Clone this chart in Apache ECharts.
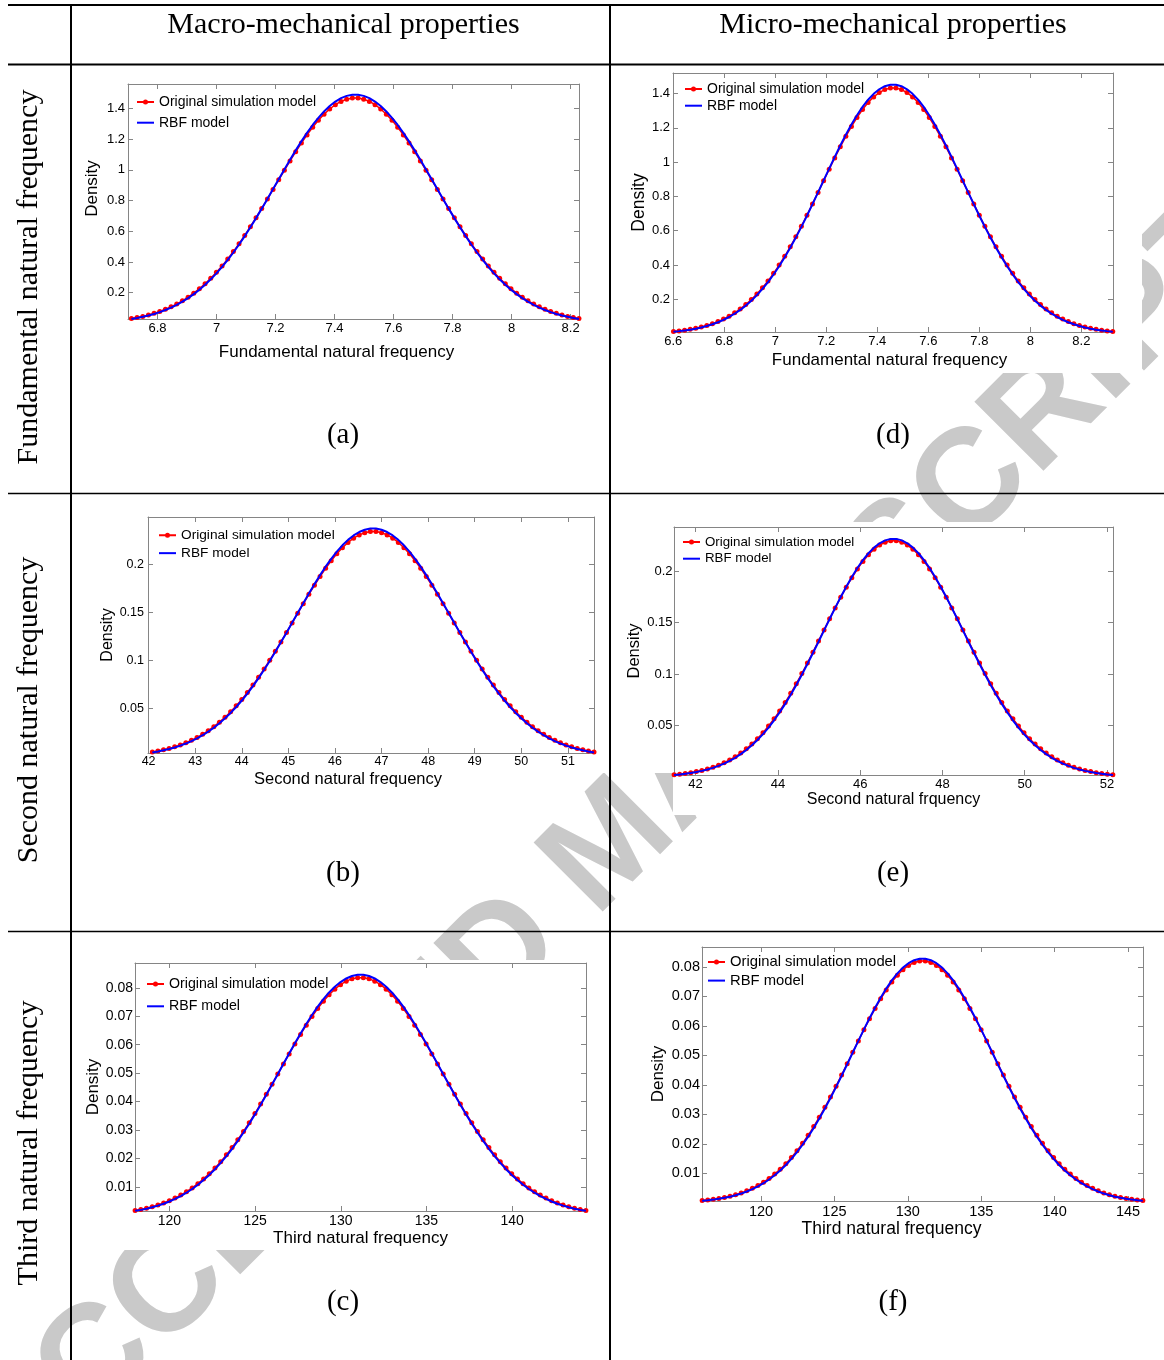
<!DOCTYPE html>
<html>
<head>
<meta charset="utf-8">
<title>Density comparison</title>
<script src="https://cdn.jsdelivr.net/npm/echarts@6.0.0/dist/echarts.min.js"></script>
<style>
html,body{margin:0;padding:0;background:#fff;}
#chart{width:1164px;height:1360px;}
</style>
</head>
<body>
<div id="chart"></div>
<script>
// ================= DATA =================
const seriesNames = ['Original simulation model', 'RBF model'];
const colHeaders = ['Macro-mechanical properties', 'Micro-mechanical properties'];
const rowHeaders = ['Fundamental natural frequency', 'Second natural frequency', 'Third natural frequency'];
const panelTags = ['(a)', '(b)', '(c)', '(d)', '(e)', '(f)'];
const xTitles = ['Fundamental natural frequency', 'Second natural frequency', 'Third natural frequency',
                 'Fundamental natural frequency', 'Second natural frquency', 'Third natural frequency'];
const yTitle = 'Density';
const watermarkText = 'ACCEPTED MANUSCRIPT';

// (a) macro, fundamental
const aX = [6.7116,6.7308,6.75,6.7692,6.7884,6.8076,6.8268,6.846,6.8652,6.8844,6.9036,6.9228,6.942,6.9612,6.9804,6.9996,7.0188,7.038,7.0572,7.0764,7.0956,7.1148,7.134,7.1532,7.1724,7.1916,7.2108,7.23,7.2492,7.2684,7.2876,7.3068,7.326,7.3452,7.3644,7.3836,7.4028,7.422,7.4412,7.4604,
            7.4796,7.4988,7.518,7.5372,7.5564,7.5756,7.5948,7.614,7.6332,7.6524,7.6716,7.6908,7.71,7.7292,7.7484,7.7676,7.7868,7.806,7.8252,7.8444,7.8636,7.8828,7.902,7.9212,7.9404,7.9596,7.9788,7.998,8.0172,8.0364,8.0556,8.0748,8.094,8.1132,8.1324,8.1516,8.1708,8.19,8.2092,8.2284];
const aRed = [0.0308,0.0374,0.0451,0.0542,0.0648,0.0770,0.0912,0.1074,0.1258,0.1467,0.1702,0.1965,0.2257,0.2580,0.2935,0.3322,0.3741,0.4193,0.4676,0.5188,0.5728,0.6294,0.6881,0.7485,0.8102,0.8727,0.9354,0.9976,1.0587,1.1180,1.1748,1.2283,1.2780,1.3231,1.3630,1.3971,1.4251,1.4464,1.4608,1.4681,
              1.4681,1.4608,1.4464,1.4251,1.3971,1.3630,1.3231,1.2780,1.2283,1.1748,1.1180,1.0587,0.9976,0.9354,0.8727,0.8102,0.7485,0.6881,0.6294,0.5728,0.5188,0.4676,0.4193,0.3741,0.3322,0.2935,0.2580,0.2257,0.1965,0.1702,0.1467,0.1258,0.1074,0.0912,0.0770,0.0648,0.0542,0.0451,0.0374,0.0308];
const aBlue = [0.0285,0.0347,0.0421,0.0508,0.0610,0.0728,0.0866,0.1023,0.1204,0.1409,0.1640,0.1900,0.2190,0.2512,0.2866,0.3253,0.3674,0.4129,0.4616,0.5135,0.5684,0.6259,0.6857,0.7475,0.8107,0.8748,0.9391,1.0032,1.0661,1.1273,1.1860,1.2413,1.2928,1.3395,1.3809,1.4164,1.4454,1.4676,1.4825,1.4901,
               1.4901,1.4825,1.4676,1.4454,1.4164,1.3809,1.3395,1.2928,1.2413,1.1860,1.1273,1.0661,1.0032,0.9391,0.8748,0.8107,0.7475,0.6857,0.6259,0.5684,0.5135,0.4616,0.4129,0.3674,0.3253,0.2866,0.2512,0.2190,0.1900,0.1640,0.1409,0.1204,0.1023,0.0866,0.0728,0.0610,0.0508,0.0421,0.0347,0.0285];
const aXTicks = [6.8, 7, 7.2, 7.4, 7.6, 7.8, 8, 8.2];
const aYTicks = [0.2, 0.4, 0.6, 0.8, 1, 1.2, 1.4];

// (b) macro, second
const bX = [42.08,42.2,42.32,42.44,42.56,42.68,42.8,42.92,43.04,43.16,43.28,43.4,43.52,43.64,43.76,43.88,44,44.12,44.24,44.36,44.48,44.6,44.72,44.84,44.96,45.08,45.2,45.32,45.44,45.56,45.68,45.8,45.92,46.04,46.16,46.28,46.4,46.52,46.64,46.76,
            46.88,47,47.12,47.24,47.36,47.48,47.6,47.72,47.84,47.96,48.08,48.2,48.32,48.44,48.56,48.68,48.8,48.92,49.04,49.16,49.28,49.4,49.52,49.64,49.76,49.88,50,50.12,50.24,50.36,50.48,50.6,50.72,50.84,50.96,51.08,51.2,51.32,51.44,51.56];
const bRed = [0.00492,0.00596,0.00720,0.00865,0.01034,0.01229,0.01455,0.01713,0.02007,0.02340,0.02715,0.03134,0.03600,0.04116,0.04681,0.05298,0.05967,0.06687,0.07457,0.08275,0.09137,0.10038,0.10974,0.11938,0.12923,0.13920,0.14919,0.15912,0.16886,0.17831,0.18737,0.19591,0.20383,0.21102,0.21739,0.22284,0.22730,0.23070,0.23300,0.23415,
              0.23415,0.23300,0.23070,0.22730,0.22284,0.21739,0.21102,0.20383,0.19591,0.18737,0.17831,0.16886,0.15912,0.14919,0.13920,0.12923,0.11938,0.10974,0.10038,0.09137,0.08275,0.07457,0.06687,0.05967,0.05298,0.04681,0.04116,0.03600,0.03134,0.02715,0.02340,0.02007,0.01713,0.01455,0.01229,0.01034,0.00865,0.00720,0.00596,0.00492];
const bBlue = [0.00454,0.00553,0.00671,0.00809,0.00971,0.01160,0.01378,0.01629,0.01917,0.02243,0.02612,0.03025,0.03487,0.03999,0.04563,0.05180,0.05850,0.06574,0.07350,0.08176,0.09050,0.09965,0.10918,0.11902,0.12908,0.13928,0.14953,0.15972,0.16975,0.17949,0.18883,0.19765,0.20583,0.21328,0.21987,0.22551,0.23014,0.23367,0.23605,0.23725,
               0.23725,0.23605,0.23367,0.23014,0.22551,0.21987,0.21328,0.20583,0.19765,0.18883,0.17949,0.16975,0.15972,0.14953,0.13928,0.12908,0.11902,0.10918,0.09965,0.09050,0.08176,0.07350,0.06574,0.05850,0.05180,0.04563,0.03999,0.03487,0.03025,0.02612,0.02243,0.01917,0.01629,0.01378,0.01160,0.00971,0.00809,0.00671,0.00553,0.00454];
const bXTicks = [42, 43, 44, 45, 46, 47, 48, 49, 50, 51];
const bYTicks = [0.05, 0.1, 0.15, 0.2];

// (c) macro, third
const cX = [117.9965,118.3295,118.6625,118.9955,119.3285,119.6615,119.9945,120.3275,120.6605,120.9935,121.3265,121.6595,121.9925,122.3255,122.6585,122.9915,123.3245,123.6575,123.9905,124.3235,124.6565,124.9895,125.3225,125.6555,125.9885,126.3215,126.6545,126.9875,127.3205,127.6535,127.9865,128.3195,128.6525,128.9855,129.3185,129.6515,129.9845,130.3175,130.6505,130.9835,
            131.3165,131.6495,131.9825,132.3155,132.6485,132.9815,133.3145,133.6475,133.9805,134.3135,134.6465,134.9795,135.3125,135.6455,135.9785,136.3115,136.6445,136.9775,137.3105,137.6435,137.9765,138.3095,138.6425,138.9755,139.3085,139.6415,139.9745,140.3075,140.6405,140.9735,141.3065,141.6395,141.9725,142.3055,142.6385,142.9715,143.3045,143.6375,143.9705,144.3035];
const cRed = [0.00175,0.00213,0.00257,0.00309,0.00369,0.00439,0.00519,0.00611,0.00716,0.00835,0.00969,0.01118,0.01285,0.01469,0.01670,0.01891,0.02129,0.02386,0.02661,0.02953,0.03260,0.03582,0.03916,0.04260,0.04611,0.04967,0.05323,0.05677,0.06025,0.06362,0.06686,0.06990,0.07273,0.07529,0.07757,0.07951,0.08110,0.08232,0.08314,0.08355,
              0.08355,0.08314,0.08232,0.08110,0.07951,0.07757,0.07529,0.07273,0.06990,0.06686,0.06362,0.06025,0.05677,0.05323,0.04967,0.04611,0.04260,0.03916,0.03582,0.03260,0.02953,0.02661,0.02386,0.02129,0.01891,0.01670,0.01469,0.01285,0.01118,0.00969,0.00835,0.00716,0.00611,0.00519,0.00439,0.00369,0.00309,0.00257,0.00213,0.00175];
const cBlue = [0.00162,0.00197,0.00239,0.00288,0.00346,0.00413,0.00491,0.00581,0.00683,0.00799,0.00931,0.01078,0.01243,0.01425,0.01626,0.01846,0.02085,0.02343,0.02619,0.02914,0.03225,0.03551,0.03891,0.04241,0.04600,0.04964,0.05329,0.05692,0.06049,0.06396,0.06729,0.07044,0.07335,0.07600,0.07835,0.08036,0.08201,0.08327,0.08412,0.08455,
               0.08455,0.08412,0.08327,0.08201,0.08036,0.07835,0.07600,0.07335,0.07044,0.06729,0.06396,0.06049,0.05692,0.05329,0.04964,0.04600,0.04241,0.03891,0.03551,0.03225,0.02914,0.02619,0.02343,0.02085,0.01846,0.01626,0.01425,0.01243,0.01078,0.00931,0.00799,0.00683,0.00581,0.00491,0.00413,0.00346,0.00288,0.00239,0.00197,0.00162];
const cXTicks = [120, 125, 130, 135, 140];
const cYTicks = [0.01, 0.02, 0.03, 0.04, 0.05, 0.06, 0.07, 0.08];

// (d) micro, fundamental
const dX = [6.6009,6.6227,6.6445,6.6663,6.6881,6.7099,6.7317,6.7535,6.7753,6.7971,6.8189,6.8407,6.8625,6.8843,6.9061,6.9279,6.9497,6.9715,6.9933,7.0151,7.0369,7.0587,7.0805,7.1023,7.1241,7.1459,7.1677,7.1895,7.2113,7.2331,7.2549,7.2767,7.2985,7.3203,7.3421,7.3639,7.3857,7.4075,7.4293,7.4511,
            7.4729,7.4947,7.5165,7.5383,7.5601,7.5819,7.6037,7.6255,7.6473,7.6691,7.6909,7.7127,7.7345,7.7563,7.7781,7.7999,7.8217,7.8435,7.8653,7.8871,7.9089,7.9307,7.9525,7.9743,7.9961,8.0179,8.0397,8.0615,8.0833,8.1051,8.1269,8.1487,8.1705,8.1923,8.2141,8.2359,8.2577,8.2795,8.3013,8.3231];
const dRed = [0.0125,0.0158,0.0199,0.0250,0.0311,0.0384,0.0473,0.0578,0.0702,0.0847,0.1017,0.1213,0.1438,0.1695,0.1985,0.2311,0.2674,0.3075,0.3515,0.3994,0.4511,0.5063,0.5648,0.6263,0.6903,0.7563,0.8234,0.8912,0.9586,1.0249,1.0892,1.1504,1.2078,1.2603,1.3071,1.3475,1.3806,1.4060,1.4232,1.4319,
              1.4319,1.4232,1.4060,1.3806,1.3475,1.3071,1.2603,1.2078,1.1504,1.0892,1.0249,0.9586,0.8912,0.8234,0.7563,0.6903,0.6263,0.5648,0.5063,0.4511,0.3994,0.3515,0.3075,0.2674,0.2311,0.1985,0.1695,0.1438,0.1213,0.1017,0.0847,0.0702,0.0578,0.0473,0.0384,0.0311,0.0250,0.0199,0.0158,0.0125];
const dBlue = [0.0113,0.0144,0.0182,0.0230,0.0287,0.0357,0.0442,0.0542,0.0662,0.0803,0.0968,0.1159,0.1380,0.1632,0.1919,0.2242,0.2604,0.3005,0.3446,0.3927,0.4448,0.5006,0.5600,0.6225,0.6877,0.7551,0.8239,0.8933,0.9626,1.0309,1.0971,1.1603,1.2196,1.2739,1.3224,1.3642,1.3986,1.4250,1.4429,1.4519,
               1.4519,1.4429,1.4250,1.3986,1.3642,1.3224,1.2739,1.2196,1.1603,1.0971,1.0309,0.9626,0.8933,0.8239,0.7551,0.6877,0.6225,0.5600,0.5006,0.4448,0.3927,0.3446,0.3005,0.2604,0.2242,0.1919,0.1632,0.1380,0.1159,0.0968,0.0803,0.0662,0.0542,0.0442,0.0357,0.0287,0.0230,0.0182,0.0144,0.0113];
const dXTicks = [6.6, 6.8, 7, 7.2, 7.4, 7.6, 7.8, 8, 8.2];
const dYTicks = [0.2, 0.4, 0.6, 0.8, 1, 1.2, 1.4];

// (e) micro, second
const eX = [41.4775,41.6125,41.7475,41.8825,42.0175,42.1525,42.2875,42.4225,42.5575,42.6925,42.8275,42.9625,43.0975,43.2325,43.3675,43.5025,43.6375,43.7725,43.9075,44.0425,44.1775,44.3125,44.4475,44.5825,44.7175,44.8525,44.9875,45.1225,45.2575,45.3925,45.5275,45.6625,45.7975,45.9325,46.0675,46.2025,46.3375,46.4725,46.6075,46.7425,
            46.8775,47.0125,47.1475,47.2825,47.4175,47.5525,47.6875,47.8225,47.9575,48.0925,48.2275,48.3625,48.4975,48.6325,48.7675,48.9025,49.0375,49.1725,49.3075,49.4425,49.5775,49.7125,49.8475,49.9825,50.1175,50.2525,50.3875,50.5225,50.6575,50.7925,50.9275,51.0625,51.1975,51.3325,51.4675,51.6025,51.7375,51.8725,52.0075,52.1425];
const eRed = [0.00200,0.00254,0.00320,0.00400,0.00499,0.00617,0.00758,0.00927,0.01126,0.01360,0.01632,0.01946,0.02307,0.02719,0.03185,0.03707,0.04290,0.04934,0.05640,0.06408,0.07236,0.08122,0.09062,0.10048,0.11075,0.12133,0.13210,0.14297,0.15379,0.16443,0.17474,0.18457,0.19376,0.20219,0.20970,0.21617,0.22150,0.22557,0.22833,0.22973,
              0.22973,0.22833,0.22557,0.22150,0.21617,0.20970,0.20219,0.19376,0.18457,0.17474,0.16443,0.15379,0.14297,0.13210,0.12133,0.11075,0.10048,0.09062,0.08122,0.07236,0.06408,0.05640,0.04934,0.04290,0.03707,0.03185,0.02719,0.02307,0.01946,0.01632,0.01360,0.01126,0.00927,0.00758,0.00617,0.00499,0.00400,0.00320,0.00254,0.00200];
const eBlue = [0.00180,0.00229,0.00291,0.00366,0.00459,0.00570,0.00704,0.00865,0.01056,0.01280,0.01544,0.01849,0.02201,0.02604,0.03062,0.03577,0.04154,0.04793,0.05497,0.06265,0.07096,0.07987,0.08934,0.09932,0.10972,0.12046,0.13143,0.14251,0.15357,0.16446,0.17502,0.18511,0.19456,0.20323,0.21097,0.21764,0.22313,0.22733,0.23018,0.23162,
               0.23162,0.23018,0.22733,0.22313,0.21764,0.21097,0.20323,0.19456,0.18511,0.17502,0.16446,0.15357,0.14251,0.13143,0.12046,0.10972,0.09932,0.08934,0.07987,0.07096,0.06265,0.05497,0.04793,0.04154,0.03577,0.03062,0.02604,0.02201,0.01849,0.01544,0.01280,0.01056,0.00865,0.00704,0.00570,0.00459,0.00366,0.00291,0.00229,0.00180];
const eXTicks = [42, 44, 46, 48, 50, 52];
const eYTicks = [0.05, 0.1, 0.15, 0.2];

// (f) micro, third
const fX = [115.99,116.37,116.75,117.13,117.51,117.89,118.27,118.65,119.03,119.41,119.79,120.17,120.55,120.93,121.31,121.69,122.07,122.45,122.83,123.21,123.59,123.97,124.35,124.73,125.11,125.49,125.87,126.25,126.63,127.01,127.39,127.77,128.15,128.53,128.91,129.29,129.67,130.05,130.43,130.81,
            131.19,131.57,131.95,132.33,132.71,133.09,133.47,133.85,134.23,134.61,134.99,135.37,135.75,136.13,136.51,136.89,137.27,137.65,138.03,138.41,138.79,139.17,139.55,139.93,140.31,140.69,141.07,141.45,141.83,142.21,142.59,142.97,143.35,143.73,144.11,144.49,144.87,145.25,145.63,146.01];
const fRed = [0.00072,0.00091,0.00114,0.00143,0.00178,0.00220,0.00271,0.00331,0.00402,0.00486,0.00583,0.00695,0.00824,0.00971,0.01137,0.01324,0.01532,0.01762,0.02014,0.02288,0.02584,0.02901,0.03236,0.03588,0.03955,0.04333,0.04718,0.05106,0.05492,0.05872,0.06240,0.06591,0.06920,0.07220,0.07489,0.07720,0.07910,0.08056,0.08154,0.08204,
              0.08204,0.08154,0.08056,0.07910,0.07720,0.07489,0.07220,0.06920,0.06591,0.06240,0.05872,0.05492,0.05106,0.04718,0.04333,0.03955,0.03588,0.03236,0.02901,0.02584,0.02288,0.02014,0.01762,0.01532,0.01324,0.01137,0.00971,0.00824,0.00695,0.00583,0.00486,0.00402,0.00331,0.00271,0.00220,0.00178,0.00143,0.00114,0.00091,0.00072];
const fBlue = [0.00064,0.00082,0.00104,0.00131,0.00164,0.00204,0.00252,0.00309,0.00378,0.00458,0.00552,0.00661,0.00787,0.00931,0.01095,0.01279,0.01486,0.01714,0.01966,0.02241,0.02538,0.02856,0.03195,0.03552,0.03924,0.04308,0.04700,0.05097,0.05492,0.05882,0.06259,0.06620,0.06958,0.07268,0.07545,0.07784,0.07980,0.08130,0.08232,0.08284,
               0.08284,0.08232,0.08130,0.07980,0.07784,0.07545,0.07268,0.06958,0.06620,0.06259,0.05882,0.05492,0.05097,0.04700,0.04308,0.03924,0.03552,0.03195,0.02856,0.02538,0.02241,0.01966,0.01714,0.01486,0.01279,0.01095,0.00931,0.00787,0.00661,0.00552,0.00458,0.00378,0.00309,0.00252,0.00204,0.00164,0.00131,0.00104,0.00082,0.00064];
const fXTicks = [120, 125, 130, 135, 140, 145];
const fYTicks = [0.01, 0.02, 0.03, 0.04, 0.05, 0.06, 0.07, 0.08];

// ================= LAYOUT / STYLE =================
const layout = {
  a: {grid:{left:128, top:84, width:451, height:235}, xr:[6.70, 8.2285], yr:[0.028, 1.56], tick:13, xm:3, ym:3,
      xn:{size:17, gap:24.5, shift:17}, yn:{size:17, gap:27.5, shift:13}, lg:{left:137, row:102, step:20.7, size:14}},
  b: {grid:{left:148, top:517, width:446, height:236}, xr:[41.987, 51.56], yr:[0.00395, 0.2493], tick:12.5, xm:2, ym:4,
      xn:{size:16.5, gap:18, shift:23}, yn:{size:16, gap:32, shift:0}, lg:{left:159, row:535, step:17.7, size:13.7}},
  c: {grid:{left:135, top:963, width:451, height:248}, xr:[117.99, 144.31], yr:[0.00157, 0.0887], tick:14, xm:3, ym:2,
      xn:{size:17, gap:19, shift:0}, yn:{size:17, gap:33, shift:0}, lg:{left:147, row:984, step:22.3, size:14.2}},
  d: {grid:{left:673, top:73, width:440, height:259}, xr:[6.599, 8.324], yr:[0.0093, 1.52], tick:13, xm:3, ym:3,
      xn:{size:17, gap:20, shift:3.5}, yn:{size:17.5, gap:25, shift:0}, lg:{left:685, row:89, step:16.7, size:14}},
  e: {grid:{left:674, top:527, width:439, height:248}, xr:[41.475, 52.146], yr:[0.0017, 0.2432], tick:13, xm:3, ym:1.5,
      xn:{size:16, gap:15.5, shift:0}, yn:{size:16.5, gap:30, shift:0}, lg:{left:683, row:542, step:16.7, size:13.3}},
  f: {grid:{left:702, top:947, width:441, height:254}, xr:[115.98, 146.02], yr:[0.00057, 0.0868], tick:14.5, xm:3, ym:2,
      xn:{size:17.5, gap:18, shift:31}, yn:{size:17, gap:35.5, shift:0}, lg:{left:708, row:962, step:18.3, size:14.8}}
};

const panels = [
  {id:'a', x:aX, red:aRed, blue:aBlue, xt:aXTicks, yt:aYTicks, title:xTitles[0]},
  {id:'b', x:bX, red:bRed, blue:bBlue, xt:bXTicks, yt:bYTicks, title:xTitles[1]},
  {id:'c', x:cX, red:cRed, blue:cBlue, xt:cXTicks, yt:cYTicks, title:xTitles[2]},
  {id:'d', x:dX, red:dRed, blue:dBlue, xt:dXTicks, yt:dYTicks, title:xTitles[3]},
  {id:'e', x:eX, red:eRed, blue:eBlue, xt:eXTicks, yt:eYTicks, title:xTitles[4]},
  {id:'f', x:fX, red:fRed, blue:fBlue, xt:fXTicks, yt:fYTicks, title:xTitles[5]}
];

const SANS = '"Liberation Sans", Arial, Helvetica, sans-serif';
const SERIF = '"Liberation Serif", "Times New Roman", serif';
const BOX = '#858585';
const RED = '#ff0000';
const BLUE = '#0000ff';
const fmt = v => String(Math.round(v * 1e6) / 1e6);
const redIcon = 'path://M0,1.5L17,1.5L17,3.5L0,3.5Z M6,2.5A2.5,2.5,0,1,1,11,2.5A2.5,2.5,0,1,1,6,2.5Z';
const blueIcon = 'path://M0,0L17,0L17,2L0,2Z';

const option = {
  backgroundColor: '#ffffff',
  animation: false,
  textStyle: {fontFamily: SANS},
  grid: [], xAxis: [], yAxis: [], series: [], legend: [],
  graphic: {elements: []}
};

function axisBase(gridIndex, min, max, ticks, position) {
  return {
    type: 'value', gridIndex: gridIndex, min: min, max: max, position: position,
    splitLine: {show: false},
    axisLine: {show: true, onZero: false, lineStyle: {color: BOX, width: 1}},
    axisTick: {show: true, inside: true, length: 5, customValues: ticks, lineStyle: {color: BOX, width: 1}},
    axisLabel: {show: false},
    z: 3
  };
}

panels.forEach((p, i) => {
  const L = layout[p.id];
  option.grid.push({left: L.grid.left, top: L.grid.top, width: L.grid.width, height: L.grid.height,
                    containLabel: false, outerBoundsMode: 'none', show: false});

  const xb = axisBase(i, L.xr[0], L.xr[1], p.xt, 'bottom');
  xb.axisLabel = {show: true, customValues: p.xt, formatter: fmt, margin: L.xm, color: '#000',
                  fontFamily: SANS, fontSize: L.tick, hideOverlap: false};
  xb.name = p.title;
  xb.nameLocation = 'middle';
  xb.nameGap = L.xn.gap;
  xb.nameTextStyle = {fontFamily: SANS, fontSize: L.xn.size, color: '#000', padding: [0, 2 * L.xn.shift, 0, 0]};
  option.xAxis.push(xb);
  option.xAxis.push(axisBase(i, L.xr[0], L.xr[1], p.xt, 'top'));

  const yl = axisBase(i, L.yr[0], L.yr[1], p.yt, 'left');
  yl.axisLabel = {show: true, customValues: p.yt, formatter: fmt, margin: L.ym, color: '#000',
                  fontFamily: SANS, fontSize: L.tick, hideOverlap: false};
  yl.name = yTitle;
  yl.nameLocation = 'middle';
  yl.nameGap = L.yn.gap;
  yl.nameTextStyle = {fontFamily: SANS, fontSize: L.yn.size, color: '#000', padding: [0, 0, 0, 2 * L.yn.shift]};
  option.yAxis.push(yl);
  option.yAxis.push(axisBase(i, L.yr[0], L.yr[1], p.yt, 'right'));

  option.series.push({
    type: 'line', name: seriesNames[0], xAxisIndex: 2 * i, yAxisIndex: 2 * i,
    data: p.x.map((xv, k) => [xv, p.red[k]]),
    symbol: 'circle', symbolSize: 5, showSymbol: true, showAllSymbol: true,
    lineStyle: {color: RED, width: 1.5}, itemStyle: {color: RED, borderWidth: 0},
    z: 4, silent: true
  });
  option.series.push({
    type: 'line', name: seriesNames[1], xAxisIndex: 2 * i, yAxisIndex: 2 * i,
    data: p.x.map((xv, k) => [xv, p.blue[k]]),
    symbol: 'none', showSymbol: false,
    lineStyle: {color: BLUE, width: 2}, itemStyle: {color: BLUE, borderWidth: 0},
    z: 5, silent: true
  });

  option.legend.push({
    orient: 'vertical', left: L.lg.left, top: L.lg.row - L.lg.size / 2, padding: 0,
    itemWidth: 17, itemHeight: 5, itemGap: L.lg.step - L.lg.size, selectedMode: false,
    symbolKeepAspect: true, itemStyle: {borderWidth: 0},
    textStyle: {fontFamily: SANS, fontSize: L.lg.size, lineHeight: L.lg.size, color: '#000'},
    data: [{name: seriesNames[0], icon: redIcon}, {name: seriesNames[1], icon: blueIcon}],
    z: 6
  });
});

// ---------- page decoration: watermark, picture backgrounds, table ----------
const G = option.graphic.elements;
G.push({type: 'text', x: 613, y: 846, rotation: Math.PI / 4, z: -20, silent: true,
        style: {text: watermarkText, font: 'bold 142px ' + SANS, fill: '#c9c9c9', align: 'center', verticalAlign: 'middle'}});

const pictureBoxes = [
  [78, 66, 530, 306], [618, 66, 524, 307],
  [88, 496, 518, 277], [673, 522, 487, 293], [606, 522, 67, 251],
  [76, 960, 530, 290], [640, 936, 520, 309]
];
pictureBoxes.forEach(b => G.push({type: 'rect', z: -10, silent: true,
  shape: {x: b[0], y: b[1], width: b[2], height: b[3]}, style: {fill: '#ffffff'}}));

const tableLines = [
  [8, 5, 1164, 5, 2], [8, 64.5, 1164, 64.5, 2],
  [8, 493.5, 1164, 493.5, 1.5], [8, 931.5, 1164, 931.5, 1.5],
  [71, 4, 71, 1360, 2], [610, 4, 610, 1360, 2]
];
tableLines.forEach(l => G.push({type: 'line', z: 50, silent: true,
  shape: {x1: l[0], y1: l[1], x2: l[2], y2: l[3]}, style: {stroke: '#000', lineWidth: l[4]}}));

const headerPos = [[343.5, 25], [893, 25]];
colHeaders.forEach((t, i) => G.push({type: 'text', z: 50, silent: true, x: headerPos[i][0], y: headerPos[i][1],
  style: {text: t, font: '30px ' + SERIF, fill: '#000', align: 'center', verticalAlign: 'middle'}}));

const rowPos = [[29, 277], [29, 710], [29, 1143]];
rowHeaders.forEach((t, i) => G.push({type: 'text', z: 50, silent: true, x: rowPos[i][0], y: rowPos[i][1],
  rotation: Math.PI / 2,
  style: {text: t, font: '30px ' + SERIF, fill: '#000', align: 'center', verticalAlign: 'middle'}}));

const tagPos = [[343, 435], [343, 873], [343, 1302], [893, 435], [893, 873], [893, 1302]];
panelTags.forEach((t, i) => G.push({type: 'text', z: 50, silent: true, x: tagPos[i][0], y: tagPos[i][1],
  style: {text: t, font: '29px ' + SERIF, fill: '#000', align: 'center', verticalAlign: 'middle'}}));

const chart = echarts.init(document.getElementById('chart'), null, {renderer: 'canvas', width: 1164, height: 1360});
chart.setOption(option);
</script>
</body>
</html>
